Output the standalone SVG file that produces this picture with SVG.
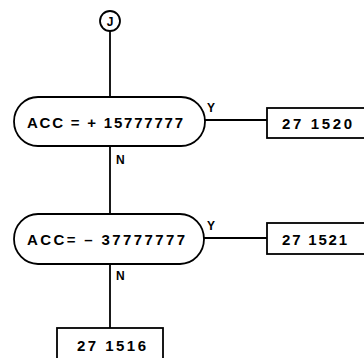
<svg xmlns="http://www.w3.org/2000/svg" width="364" height="358" viewBox="0 0 364 358">
<style>
.s{fill:#fff;stroke:#000;stroke-width:1.8}
.c{fill:none;stroke:#000;stroke-width:1.8}
.t{font-family:"Liberation Sans",Arial,sans-serif;font-weight:bold;font-size:15px;fill:#000}
.l{font-family:"Liberation Sans",Arial,sans-serif;font-weight:bold;font-size:12px;fill:#000}
</style>
<rect width="364" height="358" fill="#fff"/>
<g id="connectors">
<line class="c" x1="110" y1="31" x2="110" y2="97"/>
<line class="c" x1="110" y1="146" x2="110" y2="214"/>
<line class="c" x1="110" y1="264" x2="110" y2="328"/>
<line class="c" x1="205" y1="120" x2="267" y2="120"/>
<line class="c" x1="204" y1="238" x2="267" y2="238"/>
<text class="l" x="207" y="112">Y</text>
<text class="l" x="116" y="164">N</text>
<text class="l" x="207" y="230">Y</text>
<text class="l" x="116" y="280">N</text>
</g>
<g id="J">
<circle class="s" cx="110" cy="21" r="10"/>
<text class="l" x="110" y="25.5" text-anchor="middle">J</text>
</g>
<g id="dec1">
<rect class="s" x="14" y="97" width="191" height="49" rx="24" ry="24.5"/>
<text class="t" x="27" y="127.5" textLength="156" lengthAdjust="spacing">ACC = + 15777777</text>
</g>
<g id="box1520">
<rect class="s" x="267" y="108" width="100" height="30"/>
<text class="t" x="282" y="129" textLength="70" lengthAdjust="spacing">27 1520</text>
</g>
<g id="dec2">
<rect class="s" x="14" y="214" width="190" height="50" rx="24" ry="25"/>
<text class="t" x="27" y="244.5" textLength="158" lengthAdjust="spacing">ACC= – 37777777</text>
</g>
<g id="box1521">
<rect class="s" x="267" y="223" width="100" height="31"/>
<text class="t" x="282" y="245" textLength="65" lengthAdjust="spacing">27 1521</text>
</g>
<g id="box1516">
<rect class="s" x="57" y="328" width="106" height="34"/>
<text class="t" x="77" y="351" textLength="69" lengthAdjust="spacing">27 1516</text>
</g>
</svg>
